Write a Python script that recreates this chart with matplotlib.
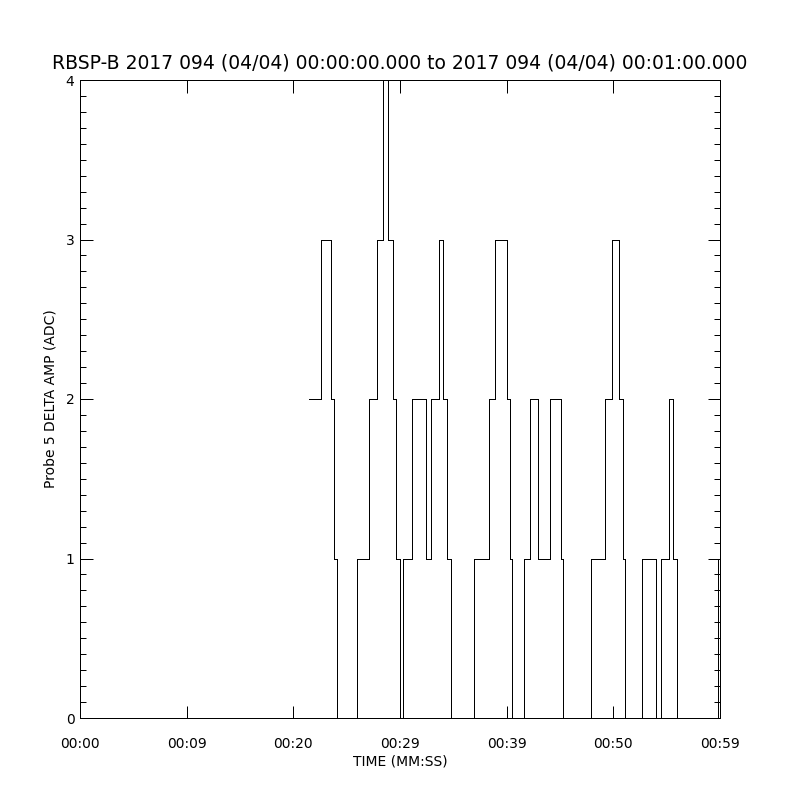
import numpy as np
import matplotlib
matplotlib.use("Agg")
import matplotlib.pyplot as plt
from matplotlib.ticker import MultipleLocator

# -------- DATA --------
# change points of the step trace: time in seconds from 00:00:00 and new ADC value
change_times = [21.5, 22.6, 23.5, 23.8, 24.1, 26.0, 27.1, 27.8, 28.4, 28.9,
                29.3, 29.6, 30.0, 30.3, 31.1, 32.4, 32.9, 33.7, 34.0, 34.4,
                34.8, 36.9, 38.3, 38.9, 40.0, 40.3, 40.5, 41.6, 42.2, 42.9,
                44.1, 45.1, 45.3, 47.9, 49.2, 49.9, 50.5, 50.9, 51.1, 52.7,
                54.0, 54.5, 55.2, 55.6, 56.0, 59.8, 60.0]
change_values = [2, 3, 2, 1, 0, 1, 2, 3, 4, 3,
                 2, 1, 0, 1, 2, 1, 2, 3, 2, 1,
                 0, 1, 2, 3, 2, 1, 0, 1, 2, 1,
                 2, 1, 0, 1, 2, 3, 2, 1, 0, 1,
                 0, 1, 2, 1, 0, 1, 1]

tick_secs = [0, 10, 20, 30, 40, 50, 60]
tick_labels = ["00:00", "00:09", "00:20", "00:29", "00:39", "00:50", "00:59"]

title = "RBSP-B 2017 094 (04/04) 00:00:00.000 to 2017 094 (04/04) 00:01:00.000"
# ----------------------

fig = plt.figure(figsize=(8, 8), dpi=100)
ax = fig.add_axes([0.1, 0.1025, 0.8, 0.7975])

ax.step(change_times, change_values, where="post", color="black",
        linewidth=0.72, antialiased=False)

ax.set_xlim(0, 60)
ax.set_ylim(0, 4)

ax.set_xticks(tick_secs)
ax.set_xticklabels(tick_labels)
ax.set_yticks([0, 1, 2, 3, 4])
ax.yaxis.set_minor_locator(MultipleLocator(0.1))

ax.tick_params(axis="both", which="both", direction="in", top=True, right=True,
               width=0.72, labelsize=10, colors="black")
ax.tick_params(axis="x", which="major", length=9, pad=14)
ax.tick_params(axis="y", which="major", length=9, pad=4)
ax.tick_params(axis="y", which="minor", length=4.5)

for s in ax.spines.values():
    s.set_linewidth(0.72)

ax.set_xlabel("TIME (MM:SS)", fontsize=10, labelpad=2)
ax.set_ylabel("Probe 5 DELTA AMP (ADC)", fontsize=10, labelpad=6)
ax.set_title(title, fontsize=13.5, pad=8)

fig.savefig("out.png", dpi=100, facecolor="white")
